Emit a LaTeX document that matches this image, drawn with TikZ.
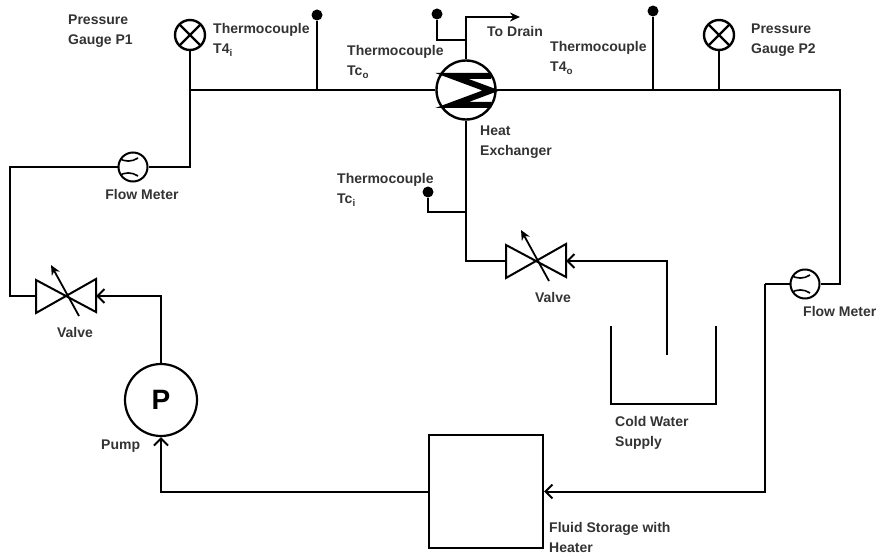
\documentclass[tikz,border=0pt]{standalone}
\usepackage{fontspec}
\setmainfont{Liberation Sans}
\usetikzlibrary{arrows.meta}
\tikzstyle{pipe} = [line width=2pt, line join=miter]
\tikzstyle{barb} = [pipe, -{Straight Barb[length=7pt,width=14pt,line width=2pt]}]
\tikzstyle{solidtip} = [pipe, -{Stealth[length=10pt,width=9pt]}]
\tikzstyle{lbl} = [anchor=west, align=left, inner sep=0pt, text=black!80, font=\bfseries\fontsize{14}{20}\selectfont]
\tikzstyle{lblc} = [lbl, anchor=center, align=center]
\tikzstyle{dot} = [circle, fill=black, inner sep=0pt, minimum size=11pt]
\tikzstyle{gauge} = [circle, draw, line width=2.4pt, inner sep=0pt, minimum size=30pt, fill=white,
    path picture={\draw[line width=2.4pt] (path picture bounding box.north west) -- (path picture bounding box.south east);
    \draw[line width=2.4pt] (path picture bounding box.north east) -- (path picture bounding box.south west);}]
\tikzstyle{flowmeter} = [circle, draw, line width=2pt, inner sep=0pt, minimum size=29pt, fill=white,
    path picture={\draw[line width=1.6pt] (path picture bounding box.west) ++(0,9pt) arc[start angle=235, end angle=305, radius=17pt];
    \draw[line width=1.6pt] (path picture bounding box.west) ++(0,-9pt) arc[start angle=125, end angle=55, radius=17pt];}]
\tikzset{valvesym/.pic={
    \draw[pipe] (0,0) -- (-30,-16) -- (-30,17) -- (30,-17) -- (30,16) -- cycle;
    \draw[solidtip, line width=1.8pt] (13,20) -- (-15,-31);
    \coordinate (-in) at (-30,0);
    \coordinate (-out) at (30,0);
}}

\begin{document}
\begin{tikzpicture}[x=1pt, y=-1pt]
        \useasboundingbox (0,0) rectangle (884,559);

        \node (gaugeA) [gauge] at (190,35) {};
        \node (gaugeB) [gauge] at (719,35) {};
        \node (hx) [circle, draw, line width=2.4pt, minimum size=59pt, inner sep=0pt] at (466,90) {};
        \node (flowA) [flowmeter] at (133,167) {};
        \node (flowB) [flowmeter] at (805,284) {};
        \node (pump) [circle, draw, line width=2.2pt, minimum size=72pt, inner sep=0pt, font=\bfseries\fontsize{28}{28}\selectfont] at (161,400) {P};
        \node (tank) [rectangle, draw, line width=2pt, minimum width=114pt, minimum height=113pt] at (486,491.5) {};

        \node (dotA) [dot] at (317,15) {};
        \node (dotB) [dot] at (437,14) {};
        \node (dotC) [dot] at (653,11) {};
        \node (dotD) [dot] at (428,192) {};

        \pic (valveA) at (66,296) {valvesym};
        \pic (valveB) at (536,261) {valvesym};

        \coordinate (teeGauge) at (190,90);
        \coordinate (teeA) at (317,90);
        \coordinate (teeC) at (653,90);
        \coordinate (teeGaugeB) at (719,90);
        \coordinate (cornerRight) at (840,90);
        \coordinate (cornerLeft) at (190,167);
        \coordinate (cornerFar) at (10,167);
        \coordinate (cornerFlow) at (765,284);
        \coordinate (drain) at (520,17);
        \coordinate (teeDrain) at (466,40);
        \coordinate (teeD) at (466,212);
        \coordinate (supply) at (667,355);
        \coordinate (bucketA) at (611,326);
        \coordinate (bucketB) at (716,326);

        \draw[pipe] (gaugeA.south) -- (cornerLeft) -- (flowA.east);
        \draw[pipe] (teeGauge) -- (hx.west);
        \draw[pipe] (hx.east) -- (cornerRight) |- (flowB.east);
        \draw[pipe] (flowA.west) -- (cornerFar) |- (valveA-in);
        \draw[pipe] (dotA) -- (teeA);
        \draw[pipe] (dotC) -- (teeC);
        \draw[pipe] (gaugeB.south) -- (teeGaugeB);
        \draw[pipe] (dotB) |- (teeDrain);
        \draw[pipe] (dotD) |- (teeD);
        \draw[pipe] (hx.south) |- (valveB-in);
        \draw[pipe] (flowB.west) -- (cornerFlow);

        \draw[solidtip] (hx.north) |- (drain);
        \draw[barb] (pump.north) |- (valveA-out);
        \draw[barb] (supply) |- (valveB-out);
        \draw[barb] (tank.west) -| (pump.south);
        \draw[barb] (cornerFlow) |- (tank.east);

        \draw[pipe] (bucketA) -- ++(0,78) -| (bucketB);

        \draw[line width=6pt, line join=miter] (491,76) -- (452,76) -- (491,90.5) -- (452,105) -- (491,105);

        \node (lblGaugeA) [lbl] at (68,31) {Pressure\\Gauge P1};
        \node (lblTFourIn) [lbl] at (213,40) {Thermocouple\\T4\textsubscript{i}};
        \node (lblTcOut) [lbl] at (347,62) {Thermocouple\\Tc\textsubscript{o}};
        \node (lblDrain) [lbl] at (487,31) {To Drain};
        \node (lblTFourOut) [lbl] at (550,58) {Thermocouple\\T4\textsubscript{o}};
        \node (lblGaugeB) [lbl] at (751,40) {Pressure\\Gauge P2};
        \node (lblHx) [lbl] at (480,142) {Heat\\Exchanger};
        \node (lblTcIn) [lbl] at (337,190) {Thermocouple\\Tc\textsubscript{i}};
        \node (lblFlowA) [lblc] at (142,194) {Flow Meter};
        \node (lblFlowB) [lbl] at (803,311) {Flow Meter};
        \node (lblValveA) [lblc] at (75,332) {Valve};
        \node (lblValveB) [lblc] at (553,297) {Valve};
        \node (lblSupply) [lbl] at (615,433) {Cold Water\\Supply};
        \node (lblPump) [lbl] at (101,446) {Pump};
        \node (lblTank) [lbl] at (549,537) {Fluid Storage with\\Heater};

\end{tikzpicture}
\end{document}
